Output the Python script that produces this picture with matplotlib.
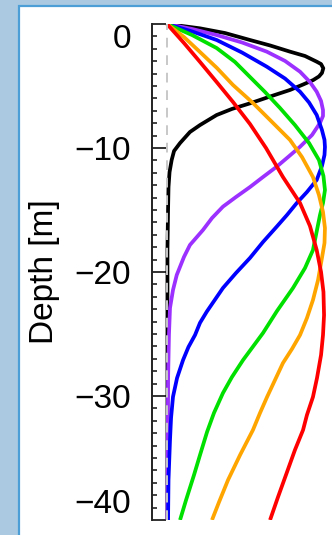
import matplotlib
matplotlib.use("Agg")
import matplotlib.pyplot as plt
from matplotlib.patches import Rectangle
from matplotlib.ticker import MultipleLocator

plt.rcParams["font.family"] = ["Liberation Sans", "DejaVu Sans"]

# Velocity profiles (normalised) versus depth [m]
black_x = [0.0, 0.22, 0.387, 0.553, 0.687, 0.82, 0.92, 0.998, 1.027, 1.042, 1.033, 1.013, 0.975,
           0.907, 0.82, 0.687, 0.553, 0.433, 0.331, 0.22, 0.153, 0.087, 0.047, 0.031, 0.017,
           0.01, 0.007, 0.003, 0.003]
black_z = [0.0, -0.35, -0.73, -1.29, -1.73, -2.23, -2.58, -3.04, -3.23, -3.57, -3.95, -4.23, -4.52,
           -4.88, -5.32, -5.85, -6.40, -6.85, -7.34, -8.15, -8.71, -9.60, -10.24, -10.97, -11.94,
           -13.15, -15.0, -18.2, -40.0]

purple_x = [0.0, 0.167, 0.331, 0.50, 0.665, 0.787, 0.887, 0.953, 0.998, 1.027, 1.04, 1.04, 1.02,
            0.967, 0.887, 0.807, 0.731, 0.64, 0.553, 0.46, 0.373, 0.30, 0.24, 0.153, 0.113,
            0.065, 0.04, 0.02, 0.013, 0.007, 0.003]
purple_z = [0.0, -0.40, -0.89, -1.49, -2.23, -2.98, -3.85, -4.68, -5.46, -6.21, -6.94, -7.42, -7.98,
            -8.95, -9.90, -10.73, -11.51, -12.34, -13.15, -13.95, -14.73, -15.65, -16.61, -17.82, -18.79,
            -20.24, -21.45, -22.9, -25.08, -28.7, -40.0]

blue_x = [0.0, 0.167, 0.331, 0.50, 0.665, 0.787, 0.887, 0.947, 0.998, 1.033, 1.05, 1.053, 1.05,
          1.033, 0.998, 0.933, 0.865, 0.80, 0.731, 0.64, 0.553, 0.46, 0.373, 0.265, 0.22, 0.187,
          0.143, 0.107, 0.067, 0.04, 0.027, 0.02, 0.01, 0.007]
blue_z = [0.0, -0.60, -1.29, -2.30, -3.44, -4.40, -5.46, -6.33, -7.34, -8.55, -9.35, -9.92, -10.56,
          -11.45, -12.58, -13.55, -14.44, -15.40, -16.35, -17.58, -18.87, -20.08, -21.29, -23.2, -24.1, -25.08,
          -26.05, -27.1, -28.55, -30.06, -31.77, -33.55, -36.77, -40.0]

green_x = [0.0, 0.167, 0.331, 0.453, 0.553, 0.653, 0.753, 0.853, 0.947, 1.013, 1.043, 1.053, 1.04,
           1.02, 1.0, 0.973, 0.92, 0.84, 0.733, 0.64, 0.507, 0.433, 0.373, 0.313, 0.267, 0.22,
           0.18, 0.127, 0.087]
green_z = [0.0, -0.89, -1.94, -3.06, -4.27, -5.48, -6.77, -8.15, -9.6, -10.97, -12.26, -13.39, -14.44,
           -15.4, -16.61, -18.23, -19.68, -21.29, -23.15, -24.92, -27.1, -28.47, -29.76, -31.37, -32.9, -34.76,
           -36.37, -38.39, -40.0]

orange_x = [0.0, 0.113, 0.22, 0.333, 0.44, 0.573, 0.70, 0.82, 0.90, 0.973, 1.013, 1.04, 1.053,
            1.05, 1.033, 1.007, 0.973, 0.933, 0.887, 0.833, 0.773, 0.72, 0.667, 0.62, 0.573, 0.487,
            0.407, 0.347, 0.30]
orange_z = [0.0, -1.05, -2.26, -3.55, -4.92, -6.37, -7.9, -9.35, -10.73, -12.34, -13.79, -15.16, -16.45,
            -17.66, -18.87, -20.65, -22.26, -23.71, -25.08, -26.21, -27.34, -28.71, -30.08, -31.37, -32.74, -34.76,
            -36.77, -38.55, -40.0]

red_x = [0.0, 0.113, 0.22, 0.331, 0.44, 0.553, 0.66, 0.773, 0.887, 0.953, 0.998, 1.027, 1.043,
         1.047, 1.04, 1.027, 1.0, 0.973, 0.933, 0.907, 0.853, 0.793, 0.74, 0.687]
red_z = [0.0, -1.53, -3.06, -4.68, -6.29, -8.06, -10.0, -12.34, -14.44, -16.29, -18.23, -20.0, -21.61,
         -23.47, -25.08, -26.69, -28.55, -30.08, -31.53, -32.74, -34.35, -36.37, -38.15, -40.0]

profiles = [
    (black_x, black_z, "black"),
    (purple_x, purple_z, "#9b30ff"),
    (blue_x, blue_z, "#0000ff"),
    (green_x, green_z, "#00e000"),
    (orange_x, orange_z, "#ffa500"),
    (red_x, red_z, "#ff0000"),
]

y_ticks = [0, -10, -20, -30, -40]

W, H = 332, 535
fig = plt.figure(figsize=(W / 100, H / 100), dpi=100)
fig.patch.set_facecolor("#abcae2")

# white panel with a blue frame
fig.add_artist(Rectangle((19 / W, -0.05), 1.1, (H - 6) / H + 0.05,
                         transform=fig.transFigure, facecolor="white",
                         edgecolor="#4c9fd6", linewidth=1.6, zorder=0))

ax = fig.add_axes([152 / W, 15 / H, 180 / W, 496 / H])
ax.patch.set_alpha(0)
for (xs, zs, c) in profiles:
    ax.plot(xs, zs, color=c, lw=2.7, solid_joinstyle="round", solid_capstyle="butt", zorder=2)

ax.axvline(0, color="#c8c8c8", lw=1.4, dashes=(5, 4), zorder=3)

ax.set_xlim(-0.1, 1.1)
ax.set_ylim(-40, 0)
for s in ["top", "right", "bottom"]:
    ax.spines[s].set_visible(False)
ax.spines["left"].set_linewidth(1.4)
ax.spines["left"].set_color("#222222")
ax.set_xticks([])
ax.set_yticks(y_ticks)
ax.set_yticklabels([f"\u2212{-v}" if v < 0 else str(v) for v in y_ticks])
ax.yaxis.set_minor_locator(MultipleLocator(1))
ax.tick_params(axis="y", which="major", direction="in", length=10, width=1.3,
               color="#222222", labelsize=24, pad=15)
ax.tick_params(axis="y", which="minor", direction="in", length=3.8, width=1.2,
               color="#222222")
# keep the end labels inside the axis span
labels = ax.get_yticklabels()
labels[0].set_verticalalignment("top")
labels[-1].set_verticalalignment("bottom")

fig.text(44 / W, 1 - 272 / H, "Depth [m]", rotation=90, ha="center",
         va="center", fontsize=24)

fig.savefig("out.png", dpi=100)
